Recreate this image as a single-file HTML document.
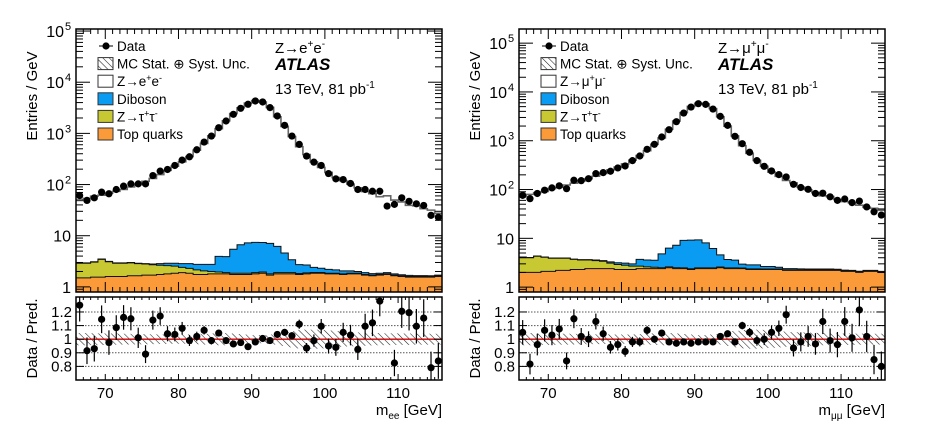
<!DOCTYPE html>
<html><head><meta charset="utf-8">
<style>
html,body{margin:0;padding:0;background:#fff;}
svg{display:block;font-family:"Liberation Sans",Arial,sans-serif;}
</style></head>
<body>
<svg id="chart" width="937" height="435" viewBox="0 0 937 435" xmlns="http://www.w3.org/2000/svg">
<defs>
<pattern id="hatch" patternUnits="userSpaceOnUse" width="4.5" height="4.5" patternTransform="rotate(-45)">
<line x1="0" y1="0" x2="0" y2="4.5" stroke="#222" stroke-width="1.1"/>
</pattern>
</defs>
</svg>
<script>
// ---------- data (bins 66..116 GeV, 1 GeV wide) ----------
const binEdgesLo = 66, binWidth = 1;
const eeData = [61,49,55,71,66,80,93,103,103,103,150,183,197,236,300,349,478,676,887,1292,1746,2358,3090,3706,4300,4110,3186,2188,1436,887,609,360,274,236,164,129,125,105,80,80,74,74,38,41,55,47,42,39,25,23];
const eeRatio = [1.25,0.915,0.93,1.146,0.975,1.085,1.16,1.15,1.01,0.89,1.14,1.17,1.04,1.035,1.08,0.99,1.02,1.065,0.99,1.045,0.99,0.965,0.975,0.945,0.98,1.005,0.99,1.035,1.05,1.025,1.11,0.935,0.99,1.095,0.95,0.94,1.05,1.03,0.925,1.095,1.12,1.28,0.63,0.825,1.205,1.195,1.095,1.155,0.79,0.84];
const eeTop = [1.5,1.5,1.55,1.55,1.6,1.6,1.6,1.65,1.65,1.7,1.7,1.75,1.8,1.85,1.9,1.85,1.75,1.75,1.8,1.8,1.8,1.75,1.75,1.75,1.8,1.85,1.7,1.8,1.8,1.8,1.75,1.8,1.85,1.85,1.8,1.8,1.75,1.8,1.8,1.7,1.65,1.7,1.75,1.65,1.6,1.55,1.55,1.55,1.55,1.6];
const eeZtt = [1.4,1.4,1.5,1.9,1.5,1.3,1.3,1.3,1.2,1.1,1.0,0.9,0.8,0.7,0.5,0.45,0.4,0.3,0.2,0.15,0.1,0.1,0.1,0.1,0.1,0.1,0.1,0.1,0.1,0.1,0.08,0.08,0.06,0.06,0.05,0.05,0.05,0.05,0.05,0.05,0.05,0.05,0.05,0.05,0.05,0.05,0.05,0.05,0.05,0.05];
const eeDib = [0.05,0.05,0.05,0.05,0.05,0.05,0.05,0.05,0.05,0.05,0.1,0.2,0.3,0.35,0.45,0.55,0.6,0.7,0.75,2.0,2.0,3.6,4.8,5.4,5.5,5.4,5.3,4.3,2.7,1.5,0.9,0.8,0.5,0.4,0.35,0.3,0.25,0.2,0.15,0.15,0.12,0.1,0.1,0.1,0.08,0.08,0.06,0.06,0.05,0.05];
const eeUnc = [0.045,0.045,0.044,0.043,0.042,0.041,0.04,0.039,0.038,0.037,0.036,0.035,0.035,0.034,0.034,0.035,0.037,0.04,0.043,0.045,0.045,0.042,0.038,0.034,0.03,0.03,0.034,0.04,0.05,0.06,0.068,0.07,0.07,0.068,0.064,0.06,0.056,0.052,0.05,0.048,0.046,0.045,0.044,0.043,0.042,0.042,0.041,0.041,0.04,0.04];

const mmData = [76,65,83,97,108,119,104,155,152,167,212,222,237,277,304,391,487,667,845,1193,1686,2457,3695,4900,5740,5560,4460,3155,2065,1230,871,580,391,299,240,202,181,128,110,101,83,84,71,60,64,54,58,44,35,30];
const mmRatio = [1.05,0.817,0.96,1.065,1.03,1.075,0.84,1.15,1.02,1.0,1.13,1.04,0.94,0.96,0.91,0.98,0.98,1.065,1.0,1.045,0.98,0.97,0.98,0.97,0.98,0.98,0.98,1.02,1.04,0.98,1.1,1.05,0.99,1.0,1.05,1.08,1.18,0.935,0.98,1.02,0.965,1.13,0.99,0.96,1.13,1.01,1.215,1.02,0.85,0.8];
const mmTop = [2.0,2.0,2.0,2.1,2.1,2.2,2.2,2.3,2.3,2.4,2.4,2.4,2.4,2.3,2.3,2.3,2.4,2.4,2.4,2.4,2.5,2.4,2.4,2.3,2.4,2.4,2.4,2.5,2.4,2.4,2.4,2.3,2.3,2.3,2.3,2.3,2.2,2.2,2.2,2.2,2.2,2.2,2.2,2.2,2.1,2.1,2.0,2.1,2.1,2.0];
const mmZtt = [2.1,2.0,2.3,2.0,1.8,1.7,1.7,1.4,1.3,1.2,1.1,1.0,0.7,0.6,0.5,0.4,0.3,0.2,0.15,0.1,0.1,0.1,0.08,0.08,0.08,0.08,0.08,0.08,0.08,0.08,0.06,0.06,0.06,0.05,0.05,0.05,0.05,0.05,0.05,0.05,0.05,0.05,0.05,0.05,0.05,0.05,0.05,0.05,0.05,0.05];
const mmDib = [0.05,0.05,0.05,0.05,0.05,0.05,0.05,0.05,0.05,0.05,0.1,0.1,0.2,0.25,0.3,0.3,1.0,1.0,1.0,2.3,3.7,4.7,6.6,6.8,6.8,5.6,3.7,2.0,1.2,1.1,0.5,0.5,0.5,0.3,0.3,0.2,0.15,0.15,0.12,0.1,0.1,0.1,0.1,0.08,0.08,0.06,0.06,0.05,0.05,0.05];
const mmUnc = [0.045,0.045,0.044,0.043,0.042,0.041,0.04,0.039,0.038,0.037,0.036,0.035,0.035,0.034,0.034,0.035,0.037,0.04,0.043,0.045,0.045,0.042,0.038,0.034,0.03,0.03,0.034,0.04,0.05,0.06,0.068,0.07,0.07,0.068,0.064,0.06,0.056,0.052,0.05,0.048,0.046,0.045,0.044,0.043,0.042,0.042,0.041,0.041,0.04,0.04];

const xTicks = [70,80,90,100,110];
const yTicksLog = [0,1,2,3,4,5];
const yTickLabels = ["1","10","10","10","10","10"];
const yTickSups = ["","","2","3","4","5"];
const rTicks = [0.8,0.9,1.0,1.1,1.2];
const rTickLabels = ["0.8","0.9","1","1.1","1.2"];

const NS = "http://www.w3.org/2000/svg";
const svg = document.getElementById('chart');
function mk(tag, attrs, parent){const e=document.createElementNS(NS,tag);for(const k in attrs)e.setAttribute(k,attrs[k]);(parent||svg).appendChild(e);return e;}

function panel(o){
  const g = mk('g',{});
  
  
  const n = o.data.length;
  const xMin=66, xMax=116;
  const X = v => o.x0 + (v-xMin)/(xMax-xMin)*(o.x1-o.x0);
  const Y = v => { const l=Math.log10(Math.max(v,1e-3)); return o.yB - (l-o.lmin)/(o.lmax-o.lmin)*(o.yB-o.yT); };
  const R = v => o.rB - (v-o.rmin)/(o.rmax-o.rmin)*(o.rB-o.rT);
  const clipId = 'clip'+o.id, clipR='clipr'+o.id;
  const cp = mk('clipPath',{id:clipId},g); mk('rect',{x:o.x0,y:o.yT,width:o.x1-o.x0,height:o.yB-o.yT},cp);
  const cr = mk('clipPath',{id:clipR},g); mk('rect',{x:o.x0,y:o.rT,width:o.x1-o.x0,height:o.rB-o.rT},cr);
  const main = mk('g',{'clip-path':`url(#${clipId})`},g);
  const cum1=[],cum2=[],cum3=[],tot=[];
  for(let i=0;i<n;i++){cum1.push(o.top[i]);cum2.push(o.top[i]+o.ztt[i]);cum3.push(o.top[i]+o.ztt[i]+o.dib[i]);tot.push(o.data[i]/o.ratio[i]);}
  function stepPts(arr){let p=[];for(let i=0;i<n;i++){const xa=X(binEdgesLo+i*binWidth),xb=X(binEdgesLo+(i+1)*binWidth),y=Y(arr[i]);p.push(xa+','+y,xb+','+y);}return p;}
  function layer(arr,fill,name){
    const p=stepPts(arr);
    const poly=mk('polygon',{points:[X(xMin)+','+o.yB].concat(p,[X(xMax)+','+o.yB]).join(' '),fill:fill,stroke:'#111','stroke-width':1},main);
    
    
  }
  layer(cum3,'#0a9cf2','diboson-stack');
  layer(cum2,'#c8c832','ztautau-stack');
  layer(cum1,'#fb9a38','top-quarks-stack');
  const tl=mk('polyline',{points:stepPts(tot).join(' '),fill:'none',stroke:'#666','stroke-width':1.6},main);
  
  
  for(let i=0;i<n;i++){
    const c=mk('circle',{cx:X(binEdgesLo+(i+0.5)*binWidth),cy:Y(o.data[i]),r:3.6,fill:'#000'},main);
    
    
  }
  mk('rect',{x:o.x0,y:o.yT,width:o.x1-o.x0,height:o.yB-o.yT,fill:'none',stroke:'#000','stroke-width':1.5},g);
  for(let v=xMin; v<=xMax; v++){
    const x=X(v), L=(v%10===0)?10:5;
    mk('line',{x1:x,y1:o.yB,x2:x,y2:o.yB-L,stroke:'#000','stroke-width':1},g);
    mk('line',{x1:x,y1:o.yT,x2:x,y2:o.yT+L,stroke:'#000','stroke-width':1},g);
    const L2=(v%10===0)?6:3;
    mk('line',{x1:x,y1:o.rB,x2:x,y2:o.rB-L2,stroke:'#000','stroke-width':1},g);
    mk('line',{x1:x,y1:o.rT,x2:x,y2:o.rT+L2,stroke:'#000','stroke-width':1},g);
  }
  for(let d=-1; d<=5; d++){
    for(let m=1;m<=9;m++){
      const v=m*Math.pow(10,d); const l=Math.log10(v);
      if(l<o.lmin||l>o.lmax) continue;
      const y=Y(v), L=(m===1)?14:7;
      mk('line',{x1:o.x0,y1:y,x2:o.x0+L,y2:y,stroke:'#000','stroke-width':1},g);
      mk('line',{x1:o.x1,y1:y,x2:o.x1-L,y2:y,stroke:'#000','stroke-width':1},g);
    }
  }
  yTicksLog.forEach((l,i)=>{
    const y=Y(Math.pow(10,l));
    const t=mk('text',{x:o.x0-(yTickSups[i]?12:5),y:y+6,'font-size':16,'text-anchor':'end'},g);
    t.textContent=yTickLabels[i];
    
    
    if(yTickSups[i]){const s=mk('text',{x:o.x0-11,y:y-1,'font-size':11},g);s.textContent=yTickSups[i];}
  });
  const yt=mk('text',{transform:`translate(${o.x0-39},${o.yT+67}) rotate(-90)`,'font-size':15,'text-anchor':'middle'},g);
  yt.textContent='Entries / GeV';
  
  
  const lx=o.x0+22, ly=o.yT+17, dy=17.6;
  const lg=mk('g',{},g);
  
  
  mk('line',{x1:lx+1,y1:ly,x2:lx+15,y2:ly,stroke:'#000','stroke-width':1},lg);
  mk('circle',{cx:lx+8,cy:ly,r:3.6},lg);
  const fills=['url(#hatch)','#fff','#0a9cf2','#c8c832','#fb9a38'];
  for(let k=0;k<5;k++) mk('rect',{x:lx,y:ly+dy*(k+1)-6,width:15,height:12,fill:fills[k],stroke:'#333','stroke-width':1},lg);
  const labels=['Data','MC Stat. \u2295 Syst. Unc.',null,'Diboson',null,'Top quarks'];
  labels.forEach((s,k)=>{ if(s===null) return; const t=mk('text',{x:lx+19,y:ly+dy*k+5,'font-size':13.5},lg); t.textContent=s; });
  function zlab(y,a){const t=mk('text',{x:lx+19,y:y,'font-size':13.5},lg);t.innerHTML=`Z\u2192${a}<tspan dy="-5" font-size="9">+</tspan><tspan dy="5">${a}</tspan><tspan dy="-5" font-size="9">-</tspan>`;}
  zlab(ly+dy*2+5,o.lep);
  zlab(ly+dy*4+5,'\u03c4');
  const tx=o.x0+199;
  const z=mk('text',{x:tx,y:o.yT+24,'font-size':15},g);
  z.innerHTML=`Z\u2192${o.lep}<tspan dy="-6" font-size="10">+</tspan><tspan dy="6">${o.lep}</tspan><tspan dy="-6" font-size="10">-</tspan>`;
  
  
  const at=mk('text',{x:tx,y:o.yT+41,'font-size':17,'font-weight':'bold','font-style':'italic'},g);
  at.textContent='ATLAS';
  
  
  const en=mk('text',{x:tx,y:o.yT+65,'font-size':15},g);
  en.innerHTML='13 TeV, 81 pb<tspan dy="-6" font-size="10">-1</tspan>';
  
  

  const rg=mk('g',{'clip-path':`url(#${clipR})`},g);
  rTicks.forEach(v=>{ if(v!==1.0) mk('line',{x1:o.x0,y1:R(v),x2:o.x1,y2:R(v),stroke:'#555','stroke-width':1,'stroke-dasharray':'1.5,1.5'},rg); });
  let up=[],dn=[];
  for(let i=0;i<n;i++){const xa=X(binEdgesLo+i*binWidth),xb=X(binEdgesLo+(i+1)*binWidth);up.push(xa+','+R(1+o.unc[i]),xb+','+R(1+o.unc[i]));dn.unshift(xb+','+R(1-o.unc[i]),xa+','+R(1-o.unc[i]));}
  const band=mk('polygon',{points:up.concat(dn).join(' '),fill:'url(#hatch)',stroke:'none'},rg);
  
  
  mk('line',{x1:o.x0,y1:R(1),x2:o.x1,y2:R(1),stroke:'#cc0000','stroke-width':1.3},rg);
  for(let i=0;i<n;i++){
    const x=X(binEdgesLo+(i+0.5)*binWidth), r=o.ratio[i], e=r*0.75/Math.sqrt(o.data[i]);
    mk('line',{x1:x,y1:R(r-e),x2:x,y2:R(r+e),stroke:'#000','stroke-width':1.2},rg);
    const c=mk('circle',{cx:x,cy:R(r),r:3.6},rg);
    
    
  }
  mk('rect',{x:o.x0,y:o.rT,width:o.x1-o.x0,height:o.rB-o.rT,fill:'none',stroke:'#000','stroke-width':1.5},g);
  rTicks.forEach((v,i)=>{
    mk('line',{x1:o.x0,y1:R(v),x2:o.x0+8,y2:R(v),stroke:'#000'},g);
    mk('line',{x1:o.x1,y1:R(v),x2:o.x1-8,y2:R(v),stroke:'#000'},g);
    const t=mk('text',{x:o.x0-4,y:R(v)+5,'font-size':15,'text-anchor':'end'},g);
    t.textContent=rTickLabels[i];
  });
  xTicks.forEach(v=>{
    const t=mk('text',{x:X(v),y:o.rB+18,'font-size':15,'text-anchor':'middle'},g);
    t.textContent=v;
    
    
  });
  const rt=mk('text',{transform:`translate(${o.x0-39},${(o.rT+o.rB)/2}) rotate(-90)`,'font-size':15,'text-anchor':'middle'},g);
  rt.textContent='Data / Pred.';
  
  
  const xt=mk('text',{x:o.x1,y:o.rB+35,'font-size':15,'text-anchor':'end'},g);
  xt.innerHTML=`m<tspan dy="4" font-size="10">${o.sub}</tspan><tspan dy="-4"> [GeV]</tspan>`;
  
  
}

panel({id:'ee',name:'ee-panel',x0:76,x1:442,yT:29,yB:292,lmin:-0.1,lmax:5.04,rT:297,rB:380,rmin:0.70,rmax:1.31,
  data:eeData,ratio:eeRatio,top:eeTop,ztt:eeZtt,dib:eeDib,unc:eeUnc,lep:'e',sub:'ee'});
panel({id:'mm',name:'mumu-panel',x0:519,x1:885,yT:29,yB:292,lmin:-0.1,lmax:5.29,rT:297,rB:380,rmin:0.70,rmax:1.31,
  data:mmData,ratio:mmRatio,top:mmTop,ztt:mmZtt,dib:mmDib,unc:mmUnc,lep:'\u03bc',sub:'\u03bc\u03bc'});
</script>
</body></html>
